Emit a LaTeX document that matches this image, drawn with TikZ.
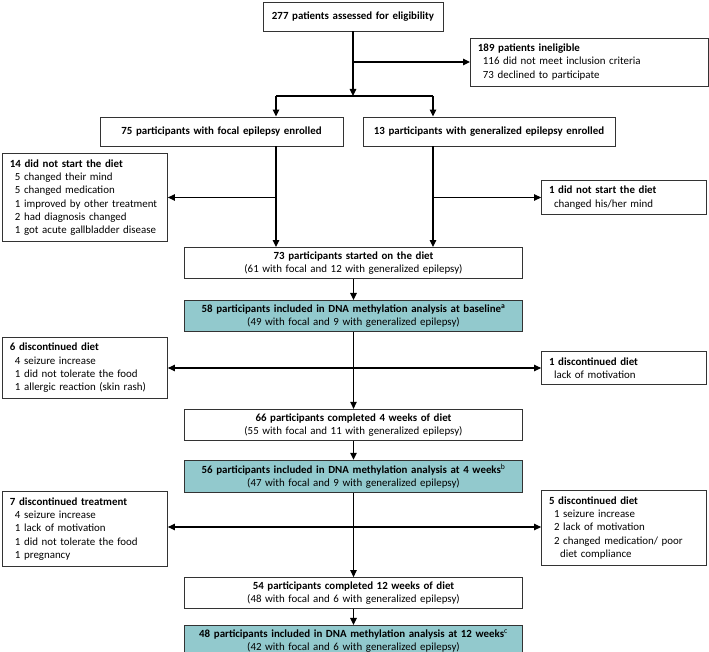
\documentclass[tikz,border=0pt]{standalone}
\usepackage{fontspec}
\setmainfont{Carlito}
\usetikzlibrary{positioning,arrows.meta}
\definecolor{methteal}{RGB}{146,201,205}
\newcommand{\ind}{\hspace*{5pt}}

\begin{document}
\begin{tikzpicture}[x=1pt, y=-1pt,
    font=\fontsize{10.9}{13.3}\selectfont,
    flowbox/.style={draw=black!80, line width=0.9pt, fill=white, text width=330pt, inner xsep=4pt, inner ysep=4pt, align=center, minimum height=31pt},
    methbox/.style={flowbox, fill=methteal},
    sidebox/.style={draw=black!80, line width=0.9pt, text width=150pt, inner xsep=7.5pt, inner ysep=6pt, align=left},
    flow/.style={->, >={Stealth[length=7pt,width=6.5pt,inset=0pt]}, draw=black, line width=1.1pt}
    ]
        \useasboundingbox (0,0) rectangle (709,652);

        %Nodes
        \node[flowbox, text width=172pt, minimum height=29pt]
            (assessed) at (353,16.5)    {\textbf{277 patients assessed for eligibility}};
        \node[sidebox, text width=223pt, anchor=west]
            (inelig) at (470,62)        {\textbf{189 patients ineligible}\\
                                         \ind 116 did not meet inclusion criteria\\
                                         \ind 73 declined to participate};
        \coordinate (fork)  at (353,96);
        \coordinate (forkL) at (276,96);
        \coordinate (forkR) at (433,96);
        \node[flowbox, text width=235pt, minimum height=29pt]
            (focal) at (221.5,131.5)    {\textbf{75 participants with focal epilepsy enrolled}};
        \node[flowbox, text width=244pt, minimum height=29pt]
            (general) at (489,131.5)    {\textbf{13 participants with generalized epilepsy enrolled}};
        \node[sidebox, anchor=west]
            (nostartL) at (2,197.5)     {\textbf{14 did not start the diet}\\
                                         \ind 5 changed their mind\\
                                         \ind 5 changed medication\\
                                         \ind 1 improved by other treatment\\
                                         \ind 2 had diagnosis changed\\
                                         \ind 1 got acute gallbladder disease};
        \node[sidebox, anchor=east]
            (nostartR) at (707,197.5)   {\textbf{1 did not start the diet}\\
                                         \ind changed his/her mind};
        \node[flowbox]
            (started) at (353.5,263)    {\textbf{73 participants started on the diet}\\
                                         (61 with focal and 12 with generalized epilepsy)};
        \node[methbox]
            (base) [below=21pt of started]  {\textbf{58 participants included in DNA methylation analysis at baseline\textsuperscript{a}}\\
                                         (49 with focal and 9 with generalized epilepsy)};
        \node[flowbox]
            (wk4) [below=77pt of base]  {\textbf{66 participants completed 4 weeks of diet}\\
                                         (55 with focal and 11 with generalized epilepsy)};
        \coordinate (split4) at (353.5,368);
        \node[sidebox, anchor=west]
            (discL4) at (2,368)         {\textbf{6 discontinued diet}\\
                                         \ind 4 seizure increase\\
                                         \ind 1 did not tolerate the food\\
                                         \ind 1 allergic reaction (skin rash)};
        \node[sidebox, anchor=east]
            (discR4) at (707,368)       {\textbf{1 discontinued diet}\\
                                         \ind lack of motivation};
        \node[methbox]
            (meth4) [below=19pt of wk4] {\textbf{56 participants included in DNA methylation analysis at 4 weeks\textsuperscript{\mdseries b}}\\
                                         (47 with focal and 9 with generalized epilepsy)};
        \node[flowbox]
            (wk12) [below=84pt of meth4] {\textbf{54 participants completed 12 weeks of diet}\\
                                         (48 with focal and 6 with generalized epilepsy)};
        \coordinate (split12) at (353.5,527);
        \node[sidebox, anchor=west]
            (discL12) at (2,529)        {\textbf{7 discontinued treatment}\\
                                         \ind 4 seizure increase\\
                                         \ind 1 lack of motivation\\
                                         \ind 1 did not tolerate the food\\
                                         \ind 1 pregnancy};
        \node[sidebox, anchor=east]
            (discR12) at (707,528)      {\textbf{5 discontinued diet}\\
                                         \ind 1 seizure increase\\
                                         \ind 2 lack of motivation\\
                                         \ind 2 changed medication/ poor\\
                                         \hspace*{11pt}diet compliance};
        \node[methbox]
            (meth12) [below=16pt of wk12] {\textbf{48 participants included in DNA methylation analysis at 12 weeks\textsuperscript{\mdseries c}}\\
                                         (42 with focal and 6 with generalized epilepsy)};

        %Lines
        \draw[flow] (assessed) -- (assessed.south |- fork);
        \draw[flow] (assessed.south |- inelig.west) -- (inelig.west);
        \draw[draw=black, line width=1.1pt] (forkL) -- (forkR);
        \draw[flow] (forkL) -- (forkL |- focal.north);
        \draw[flow] (forkR) -- (forkR |- general.north);
        \draw[flow] (forkL |- focal.south) -- (forkL |- started.north);
        \draw[flow] (forkL |- nostartL.east) -- (nostartL.east);
        \draw[flow] (forkR |- general.south) -- (forkR |- started.north);
        \draw[flow] (forkR |- nostartR.west) -- (nostartR.west);
        \draw[flow] (started) -- (base);
        \draw[flow] (base) -- (wk4);
        \draw[flow] (split4) -- (split4 -| discL4.east);
        \draw[flow] (split4) -- (split4 -| discR4.west);
        \draw[flow] (wk4) -- (meth4);
        \draw[flow] (meth4) -- (wk12);
        \draw[flow] (split12) -- (split12 -| discL12.east);
        \draw[flow] (split12) -- (split12 -| discR12.west);
        \draw[flow] (wk12) -- (meth12);
    \end{tikzpicture}
\end{document}
